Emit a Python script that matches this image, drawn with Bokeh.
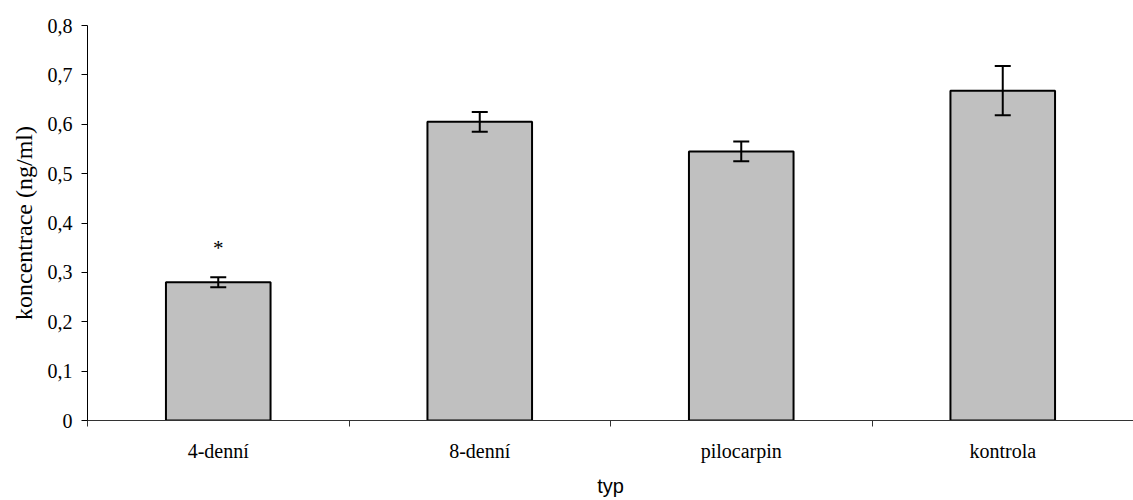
from bokeh.plotting import figure
from bokeh.models import (ColumnDataSource, Range1d, FixedTicker, Whisker, TeeHead)
from bokeh.core.properties import value
from bokeh.embed import file_html
from bokeh.resources import INLINE

# ---- data ----
categories = ["4-denní", "8-denní", "pilocarpin", "kontrola"]
means = [0.280, 0.605, 0.545, 0.668]
errors = [0.010, 0.020, 0.020, 0.050]
markers = ["*", "", "", ""]
y_ticks = [0.0, 0.1, 0.2, 0.3, 0.4, 0.5, 0.6, 0.7, 0.8]
y_tick_labels = ["0", "0,1", "0,2", "0,3", "0,4", "0,5", "0,6", "0,7", "0,8"]
x_title = "typ"
y_title = "koncentrace (ng/ml)"

# ---- derived ----
x_pos = [i + 0.5 for i in range(len(categories))]
upper = [m + e for m, e in zip(means, errors)]
lower = [m - e for m, e in zip(means, errors)]
star_y = [u + 0.036 for u in upper]

src = ColumnDataSource(dict(x=x_pos, top=means, upper=upper, lower=lower,
                            star=markers, star_y=star_y))

SERIF = "Liberation Serif"
SANS = "Liberation Sans"

p = figure(width=1133, height=500, output_backend="svg", toolbar_location=None,
           x_range=Range1d(0, len(categories)), y_range=Range1d(0, 0.8),
           min_border_left=87, min_border_right=0, min_border_top=25,
           min_border_bottom=80)
p.outline_line_color = None
p.grid.visible = False
p.background_fill_color = "white"
p.border_fill_color = "white"

p.vbar(x="x", top="top", width=0.4, bottom=0, source=src,
       fill_color="#C0C0C0", line_color="black", line_width=2)

w = Whisker(base="x", upper="upper", lower="lower", source=src,
            line_color="black", line_width=2, level="overlay",
            upper_head=TeeHead(size=16, line_color="black", line_width=2),
            lower_head=TeeHead(size=16, line_color="black", line_width=2))
p.add_layout(w)

p.text(x="x", y="star_y", text="star", source=src, text_align="center",
       text_baseline="bottom", text_font=value(SERIF), text_font_size="21px",
       text_color="black")

# y axis
ya = p.yaxis[0]
ya.ticker = FixedTicker(ticks=y_ticks, minor_ticks=[])
ya.major_label_overrides = {t: l for t, l in zip(y_ticks, y_tick_labels)}
ya.major_tick_out = 6
ya.major_tick_in = 0
ya.major_label_standoff = 9
ya.axis_line_color = "black"
ya.major_tick_line_color = "black"
ya.major_label_text_font = SERIF
ya.major_label_text_font_size = "20px"
ya.major_label_text_color = "black"
ya.axis_label = y_title
ya.axis_label_text_font = SERIF
ya.axis_label_text_font_size = "24px"
ya.axis_label_text_font_style = "normal"
ya.axis_label_text_color = "black"
ya.axis_label_standoff = 8

# x axis
xa = p.xaxis[0]
xa.ticker = FixedTicker(ticks=x_pos, minor_ticks=list(range(len(categories) + 1)))
xa.major_label_overrides = {t: c for t, c in zip(x_pos, categories)}
xa.major_tick_out = 0
xa.major_tick_in = 0
xa.minor_tick_out = 6
xa.minor_tick_in = 0
xa.minor_tick_line_color = "#333333"
xa.axis_line_color = "#333333"
xa.major_label_standoff = 13
xa.major_label_text_font = SERIF
xa.major_label_text_font_size = "20px"
xa.major_label_text_color = "black"
xa.axis_label = x_title
xa.axis_label_text_font = SANS
xa.axis_label_text_font_size = "20px"
xa.axis_label_text_font_style = "normal"
xa.axis_label_text_color = "black"
xa.axis_label_standoff = 10

open("out.html", "w").write(file_html(p, INLINE))
